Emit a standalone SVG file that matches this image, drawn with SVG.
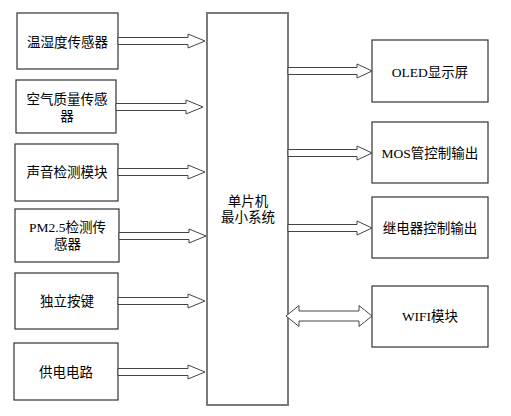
<svg xmlns="http://www.w3.org/2000/svg" xmlns:xlink="http://www.w3.org/1999/xlink" width="511" height="416" viewBox="0 0 511 416">
<style>
.box{fill:#fff;stroke:#333;stroke-width:1.2}
.main{fill:#fff;stroke:#7a7a7a;stroke-width:2}
.arr{fill:#fff;stroke:#444;stroke-width:1}
text{font-family:"Liberation Serif","Noto Sans CJK SC",serif;font-size:13.5px;fill:#000;text-anchor:middle}
</style>
<defs>
<path id="al" class="arr" d="M0,-3.5 H70 V-7 L87,0 L70,7 V3.5 H0 Z"/>
<path id="ar" class="arr" d="M0,-3.5 H69 V-7 L84,0 L69,7 V3.5 H0 Z"/>
</defs>
<rect width="511" height="416" fill="#fff"/>
<g id="mcu"><rect class="main" x="207" y="13" width="81" height="392"/><text x="248" y="206">单片机</text><text x="248" y="222">最小系统</text></g>
<g id="n1"><rect class="box" x="17" y="13" width="101" height="56"/><text x="67.5" y="47">温湿度传感器</text></g>
<g id="n2"><rect class="box" x="16" y="80" width="100" height="53"/><text x="67" y="104">空气质量传感</text><text x="67" y="121">器</text></g>
<g id="n3"><rect class="box" x="15" y="144" width="103" height="57"/><text x="67" y="177">声音检测模块</text></g>
<g id="n4"><rect class="box" x="15" y="209" width="104" height="53"/><text x="67.5" y="232">PM2.5检测传</text><text x="67.5" y="249">感器</text></g>
<g id="n5"><rect class="box" x="15" y="273" width="103" height="56"/><text x="67" y="306">独立按键</text></g>
<g id="n6"><rect class="box" x="14" y="343" width="104" height="57"/><text x="66" y="377">供电电路</text></g>
<g id="o1"><rect class="box" x="372" y="40" width="116" height="62"/><text x="430" y="77">OLED显示屏</text></g>
<g id="o2"><rect class="box" x="372" y="122" width="116" height="61"/><text x="430" y="158">MOS管控制输出</text></g>
<g id="o3"><rect class="box" x="372" y="197" width="116" height="61"/><text x="430" y="233">继电器控制输出</text></g>
<g id="o4"><rect class="box" x="372" y="286" width="116" height="61"/><text x="430" y="321">WIFI模块</text></g>
<g id="connectors">
<use xlink:href="#al" x="118" y="41"/>
<use xlink:href="#al" x="116" y="107"/>
<use xlink:href="#al" x="118" y="172"/>
<use xlink:href="#al" x="119" y="236"/>
<use xlink:href="#al" x="118" y="301"/>
<use xlink:href="#al" x="118" y="372"/>
<use xlink:href="#ar" x="288" y="71"/>
<use xlink:href="#ar" x="288" y="153"/>
<use xlink:href="#ar" x="288" y="228"/>
<path class="arr" d="M286,316 L299,305.5 V311 H359 V305.5 L372,316 L359,326.5 V321 H299 V326.5 Z"/>
</g>
</svg>
